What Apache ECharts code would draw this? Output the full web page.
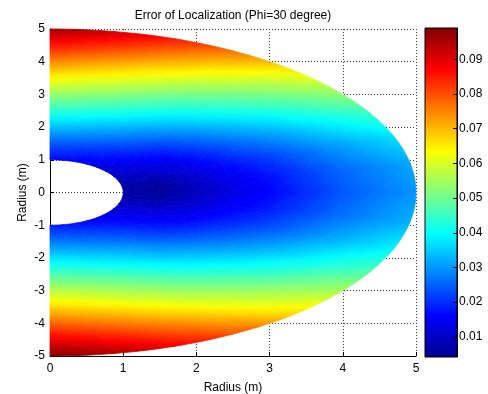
<!DOCTYPE html>
<html>
<head>
<meta charset="utf-8">
<script src="https://cdn.jsdelivr.net/npm/echarts@6/dist/echarts.min.js"></script>
<style>
  html, body { margin: 0; padding: 0; background: #fff; }
  #main { width: 488px; height: 394px; }
</style>
</head>
<body>
<div id="main"></div>
<script>
// sample grid (polar): radius in m, angle in degrees
const radii = [1, 1.5, 2, 2.5, 3, 3.5, 4, 4.5, 5];
const angles = [-90, -80, -70, -60, -50, -40, -30, -20, -10, 0, 10, 20, 30, 40, 50, 60, 70, 80, 90];
// one row per angle, one column per radius
const errorValues = [
  [0.0184, 0.0273, 0.0371, 0.0470, 0.0569, 0.0671, 0.0780, 0.0888, 0.0986],
  [0.0181, 0.0266, 0.0361, 0.0456, 0.0551, 0.0647, 0.0750, 0.0854, 0.0948],
  [0.0173, 0.0252, 0.0341, 0.0430, 0.0519, 0.0604, 0.0697, 0.0792, 0.0881],
  [0.0162, 0.0232, 0.0311, 0.0389, 0.0467, 0.0546, 0.0627, 0.0713, 0.0797],
  [0.0150, 0.0207, 0.0269, 0.0337, 0.0410, 0.0481, 0.0551, 0.0618, 0.0692],
  [0.0135, 0.0174, 0.0222, 0.0283, 0.0346, 0.0408, 0.0466, 0.0527, 0.0584],
  [0.0119, 0.0143, 0.0179, 0.0229, 0.0280, 0.0330, 0.0383, 0.0434, 0.0481],
  [0.0101, 0.0113, 0.0144, 0.0183, 0.0222, 0.0263, 0.0308, 0.0349, 0.0387],
  [0.0083, 0.0077, 0.0114, 0.0153, 0.0183, 0.0222, 0.0261, 0.0293, 0.0322],
  [0.0071, 0.0052, 0.0091, 0.0131, 0.0160, 0.0200, 0.0240, 0.0270, 0.0300],
  [0.0072, 0.0060, 0.0099, 0.0140, 0.0173, 0.0213, 0.0253, 0.0285, 0.0315],
  [0.0083, 0.0092, 0.0127, 0.0168, 0.0204, 0.0245, 0.0290, 0.0331, 0.0368],
  [0.0100, 0.0124, 0.0157, 0.0206, 0.0257, 0.0305, 0.0358, 0.0411, 0.0459],
  [0.0117, 0.0153, 0.0195, 0.0255, 0.0319, 0.0380, 0.0439, 0.0500, 0.0559],
  [0.0131, 0.0181, 0.0240, 0.0308, 0.0380, 0.0452, 0.0522, 0.0589, 0.0661],
  [0.0141, 0.0205, 0.0281, 0.0358, 0.0436, 0.0517, 0.0596, 0.0680, 0.0765],
  [0.0151, 0.0224, 0.0310, 0.0399, 0.0487, 0.0574, 0.0663, 0.0759, 0.0850],
  [0.0158, 0.0237, 0.0330, 0.0425, 0.0520, 0.0615, 0.0716, 0.0820, 0.0916],
  [0.0161, 0.0244, 0.0339, 0.0438, 0.0537, 0.0637, 0.0744, 0.0854, 0.0956]
];
const colorMin = 0.0042;
const colorMax = 0.099;
const colorTicks = [0.01, 0.02, 0.03, 0.04, 0.05, 0.06, 0.07, 0.08, 0.09];
const jet = ['#00008f', '#0000ff', '#0080ff', '#00ffff', '#80ff80', '#ffff00', '#ff8000', '#ff0000', '#800000'];

const chart = echarts.init(document.getElementById('main'), null, { renderer: 'canvas' });

const toColor = (v) => {
  const t = Math.min(1, Math.max(0, (v - colorMin) / (colorMax - colorMin)));
  return echarts.color.lerp(t, jet);
};

const polarToXY = (r, deg) => {
  const a = deg * Math.PI / 180;
  return [r * Math.cos(a), r * Math.sin(a)];
};

// one item per cell of the polar grid
const cells = [];
for (let j = 0; j < angles.length - 1; j++) {
  for (let i = 0; i < radii.length - 1; i++) {
    const c = polarToXY((radii[i] + radii[i + 1]) / 2, (angles[j] + angles[j + 1]) / 2);
    cells.push([c[0], c[1], i, j]);
  }
}

// shading plane through three corners; outline may follow an arc
const tri = (p, q, s, va, vb, vc, outline) => {
  const dx1 = q[0] - p[0], dy1 = q[1] - p[1], dv1 = vb - va;
  const dx2 = s[0] - p[0], dy2 = s[1] - p[1], dv2 = vc - va;
  const det = dx1 * dy2 - dx2 * dy1;
  const lo = Math.min(va, vb, vc);
  const hi = Math.max(va, vb, vc);
  let fill;
  if (Math.abs(det) < 1e-9 || hi - lo < 1e-7) {
    fill = toColor((va + vb + vc) / 3);
  } else {
    const gx = (dv1 * dy2 - dv2 * dy1) / det;
    const gy = (dx1 * dv2 - dx2 * dv1) / det;
    const g2 = gx * gx + gy * gy;
    const a = (lo - va) / g2;
    const b = (hi - va) / g2;
    const stops = [];
    for (let k = 0; k <= 4; k++) {
      stops.push({ offset: k / 4, color: toColor(lo + (k / 4) * (hi - lo)) });
    }
    fill = new echarts.graphic.LinearGradient(p[0] + a * gx, p[1] + a * gy, p[0] + b * gx, p[1] + b * gy, stops, true);
  }
  return { type: 'polygon', shape: { points: outline || [p, q, s] }, style: { fill: fill, stroke: fill, lineWidth: 0.8 } };
};

const arcPoints = (api, r, a0, a1) => {
  const pts = [];
  for (let m = 1; m < 8; m++) {
    pts.push(api.coord(polarToXY(r, a0 + (a1 - a0) * m / 8)));
  }
  return pts;
};

const renderCell = (params, api) => {
  const i = api.value(2);
  const j = api.value(3);
  const node = (jj, ii) => api.coord(polarToXY(radii[ii], angles[jj]));
  const p00 = node(j, i), p01 = node(j, i + 1), p10 = node(j + 1, i), p11 = node(j + 1, i + 1);
  const v00 = errorValues[j][i], v01 = errorValues[j][i + 1];
  const v10 = errorValues[j + 1][i], v11 = errorValues[j + 1][i + 1];
  let outer = null;
  let inner = null;
  if (i === radii.length - 2) {
    outer = [p00, p01].concat(arcPoints(api, radii[i + 1], angles[j], angles[j + 1]), [p11]);
  }
  if (i === 0) {
    inner = [p00, p11, p10].concat(arcPoints(api, radii[i], angles[j + 1], angles[j]));
  }
  return {
    type: 'group',
    children: [
      tri(p00, p01, p11, v00, v01, v11, outer),
      tri(p00, p11, p10, v00, v11, v10, inner)
    ]
  };
};

const renderColorbar = (params, api) => {
  const p0 = api.coord([api.value(0), api.value(1)]);
  const p1 = api.coord([api.value(2), api.value(3)]);
  const stops = jet.map((c, k) => ({ offset: k / (jet.length - 1), color: c }));
  return {
    type: 'rect',
    shape: { x: p0[0], y: p1[1], width: p1[0] - p0[0], height: p0[1] - p1[1] },
    style: { fill: new echarts.graphic.LinearGradient(0, 1, 0, 0, stops), stroke: '#000', lineWidth: 1 }
  };
};

const font = 'Liberation Sans, Arial, Helvetica, sans-serif';
const dotted = { color: '#3c3c3c', type: [1, 2], width: 1 };

const option = {
  animation: false,
  textStyle: { fontFamily: font },
  title: {
    text: 'Error of Localization (Phi=30 degree)',
    left: 233,
    top: 10,
    textAlign: 'center',
    padding: 0,
    textStyle: { fontSize: 12, fontWeight: 'normal', color: '#000', fontFamily: font }
  },
  grid: [
    { left: 50, top: 29, width: 366, height: 327, outerBoundsMode: 'none', containLabel: false },
    { left: 425, top: 28, width: 32, height: 329, outerBoundsMode: 'none', containLabel: false }
  ],
  xAxis: [
    {
      type: 'value',
      min: 0,
      max: 5,
      interval: 1,
      name: 'Radius (m)',
      nameLocation: 'middle',
      nameGap: 26,
      nameMoveOverlap: false,
      nameTextStyle: { fontSize: 12, color: '#000' },
      axisLine: { onZero: false, lineStyle: { color: '#000', width: 1 } },
      axisTick: { inside: true, length: 4, lineStyle: { color: '#000' } },
      axisLabel: { fontSize: 12, color: '#000', margin: 7 },
      splitLine: { show: true, lineStyle: dotted }
    },
    { gridIndex: 1, type: 'value', min: 0, max: 1, show: false }
  ],
  yAxis: [
    {
      type: 'value',
      min: -5,
      max: 5,
      interval: 1,
      name: 'Radius (m)',
      nameLocation: 'middle',
      nameGap: 21,
      nameMoveOverlap: false,
      nameTextStyle: { fontSize: 12, color: '#000' },
      axisLine: { onZero: false, lineStyle: { color: '#000', width: 1 } },
      axisTick: { inside: true, length: 4, lineStyle: { color: '#000' } },
      axisLabel: { fontSize: 12, color: '#000', margin: 5 },
      splitLine: { show: true, lineStyle: dotted }
    },
    {
      gridIndex: 1,
      type: 'value',
      position: 'right',
      min: colorMin,
      max: colorMax,
      z: 10,
      axisLine: { show: true, onZero: false, lineStyle: { color: '#000', width: 1 } },
      axisTick: { show: true, inside: true, length: 4, customValues: colorTicks, lineStyle: { color: '#000' } },
      axisLabel: {
        fontSize: 12,
        color: '#000',
        margin: 2,
        customValues: colorTicks,
        formatter: (v) => v.toFixed(2)
      },
      splitLine: { show: false }
    }
  ],
  series: [
    {
      type: 'custom',
      xAxisIndex: 0,
      yAxisIndex: 0,
      data: cells,
      encode: { x: 0, y: 1 },
      renderItem: renderCell,
      silent: true
    },
    {
      type: 'custom',
      xAxisIndex: 1,
      yAxisIndex: 1,
      data: [[0, colorMin, 1, colorMax]],
      encode: { x: [0, 2], y: [1, 3] },
      renderItem: renderColorbar,
      silent: true
    }
  ]
};

chart.setOption(option);
window.addEventListener('resize', () => {
  chart.resize();
});
</script>
</body>
</html>
